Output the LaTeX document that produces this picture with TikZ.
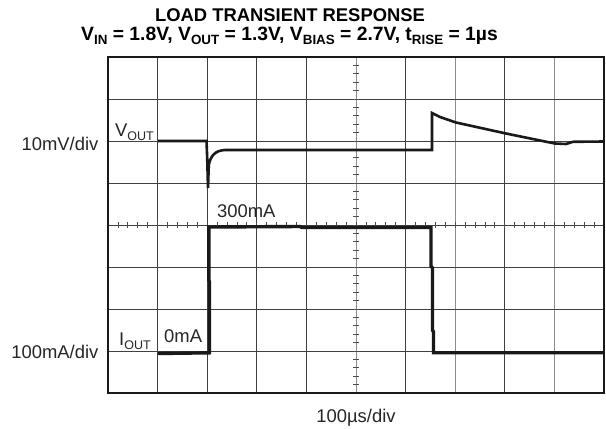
\documentclass[tikz,border=0pt]{standalone}
\usepackage{fontspec}
\setmainfont{Liberation Sans}
\newcommand\lsub[1]{\raisebox{-0.22em}{\fontsize{12.5}{12.5}\selectfont #1}}
\newcommand\tsub[1]{\raisebox{-0.22em}{\fontsize{13.4}{13.4}\selectfont #1}}
\tikzset{
  gridline/.style={draw=black!75, line width=0.9pt},
  lightgrid/.style={draw=black!45, line width=1pt},
  tickline/.style={draw=black!70, line width=0.8pt},
  frame/.style={draw=black!90, line width=2pt},
  vtrace/.style={draw=black!90, line width=2.6pt, line join=miter},
  itrace/.style={draw=black!90, line width=3.4pt, line join=miter},
  lbl/.style={inner sep=0pt, font=\fontsize{18.4}{20}\selectfont, text=black!85},
  ttl/.style={inner sep=0pt, font=\fontsize{18.4}{20}\selectfont\bfseries},
  ttlb/.style={inner sep=0pt, font=\fontsize{19.3}{21}\selectfont\bfseries}
}
\begin{document}
\begin{tikzpicture}[x=1pt,y=-1pt]
\useasboundingbox (0,0) rectangle (606,429);
\fill[white] (0,0) rectangle (606,429);
% grid
\foreach \i in {1,2,3,4,6,8} \draw[gridline] ({108+49.6*\i},57) -- ({108+49.6*\i},393);
\foreach \i in {5,7,9} \draw[lightgrid] ({108+49.6*\i},57) -- ({108+49.6*\i},393);
\foreach \j in {1,...,7} \draw[gridline] (108,{57+42*\j}) -- (604,{57+42*\j});
% ticks
\foreach \k in {1,...,49} \draw[tickline] ({108+9.92*\k},222) -- ({108+9.92*\k},228);
\foreach \k in {1,...,39} \draw[tickline] (353,{57+8.4*\k}) -- (359,{57+8.4*\k});
% frame
\draw[frame] (108,57) rectangle (604,393);
% VOUT trace
\draw[vtrace] (158,141) -- (206.5,141) -- (207.2,158) -- (208,188) -- (208.8,165)
  .. controls (210.5,156) and (215,150.5) .. (225,150) -- (432,150) -- (432,113)
  -- (440,117) -- (456,122.5) -- (506,133.5) -- (545,141.5) -- (555,143.5)
  -- (566,144) -- (573,141.8) -- (604,141.5);
% IOUT trace
\draw[itrace] (158,353.5) -- (209.5,352.8) -- (209.5,282) -- (208.8,280) -- (208.8,227)
  -- (300,226.5) -- (302,227.5) -- (431,227.5) -- (431,266) -- (432.5,268)
  -- (432.5,330) -- (433.5,332) -- (433.5,352.7) -- (604,352.7);
% labels
\node[ttl, anchor=base] (title1) at (290,21.5) {LOAD TRANSIENT RESPONSE};
\node[ttlb, anchor=base] (title2) at (289.5,40.5) {V\tsub{IN} = 1.8V, V\tsub{OUT} = 1.3V, V\tsub{BIAS} = 2.7V, t\tsub{RISE} = 1µs};
\node[lbl, anchor=base east] (vdiv) at (98.5,150) {10mV/div};
\node[lbl, anchor=base east] (idiv) at (98.5,358) {100mA/div};
\node[lbl, anchor=base west] (vout) at (115,136) {V\lsub{OUT}};
\node[lbl, anchor=base west] (iout) at (119,345) {I\lsub{OUT}};
\node[lbl, anchor=base west] (zero) at (164,342) {0mA};
\node[lbl, anchor=base west] (three) at (217,217) {300mA};
\node[lbl, anchor=base] (tdiv) at (356,422) {100µs/div};
\end{tikzpicture}
\end{document}
